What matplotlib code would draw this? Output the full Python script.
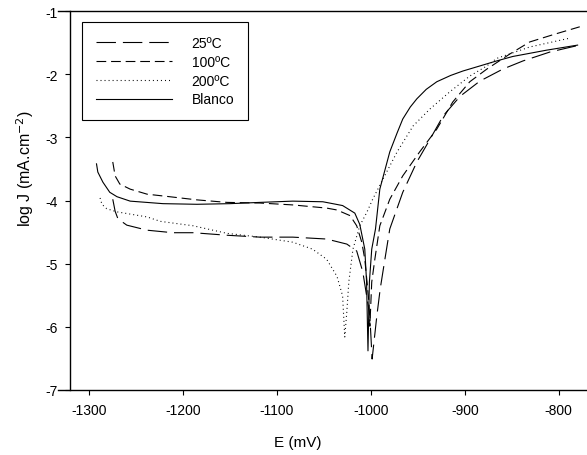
import numpy as np
import matplotlib
matplotlib.use("Agg")
import matplotlib.pyplot as plt

plt.rcParams.update({
    "font.family": ["Liberation Sans", "DejaVu Sans"],
    "font.size": 10,
    "lines.scale_dashes": False,
    "axes.unicode_minus": False,
})

# Polarization curves: potential E (mV) vs log J (mA.cm^-2)
e_25 = [-1274.5, -1272, -1269, -1259.6, -1238, -1210.6, -1189, -1153, -1118, -1083,
        -1047, -1025.5, -1015, -1008.5, -1001, -998.6, -993.6, -990, -985, -979.8,
        -966, -951, -937, -923, -905, -884, -859.6, -838, -809.6, -780.9]
j_25 = [-3.98, -4.17, -4.29, -4.39, -4.47, -4.51, -4.51, -4.55, -4.58, -4.58,
        -4.61, -4.69, -4.80, -5.13, -5.83, -6.51, -5.83, -5.40, -4.93, -4.45,
        -3.87, -3.39, -3.03, -2.66, -2.35, -2.11, -1.92, -1.79, -1.65, -1.55]

e_100 = [-1274.5, -1272, -1267, -1256, -1238, -1214, -1185, -1153, -1118, -1083,
         -1047, -1036, -1022, -1015, -1009.6, -1006.4, -1004, -1002, -1001, -999,
         -995.7, -990.4, -979.8, -966, -948, -929.8, -912.8, -894.7, -876.6, -852,
         -830.9, -805, -777.7]
j_100 = [-3.39, -3.61, -3.74, -3.82, -3.90, -3.94, -3.99, -4.03, -4.04, -4.07,
         -4.12, -4.15, -4.24, -4.40, -4.66, -4.93, -5.29, -5.61, -5.99, -5.29,
         -4.93, -4.40, -3.98, -3.61, -3.23, -2.87, -2.44, -2.12, -1.92, -1.68,
         -1.49, -1.37, -1.25]

e_200 = [-1288, -1286, -1281, -1270, -1238, -1224, -1189, -1153, -1118, -1083,
         -1062, -1047, -1036, -1030, -1027.7, -1025.5, -1023.4, -1019, -1011.7, -1004,
         -998, -987, -972, -955, -937, -916, -894.7, -876.6, -866, -831,
         -791.5, -788]
j_200 = [-3.96, -4.06, -4.13, -4.18, -4.26, -4.33, -4.40, -4.52, -4.58, -4.66,
         -4.77, -4.93, -5.20, -5.51, -6.16, -5.76, -5.29, -4.77, -4.40, -4.18,
         -3.98, -3.66, -3.23, -2.82, -2.55, -2.28, -2.03, -1.87, -1.75, -1.57,
         -1.44, -1.43]

e_blanco = [-1291.8, -1290.4, -1285, -1277.7, -1270, -1256, -1221, -1185, -1150, -1118,
            -1083, -1051, -1030, -1017, -1011.7, -1006.4, -1004.5, -1003, -1001.5, -999,
            -995, -990.4, -979.8, -972, -966, -958, -951, -941, -929.8, -915,
            -902, -866, -849, -813, -780]
j_blanco = [-3.42, -3.55, -3.71, -3.87, -3.94, -4.01, -4.05, -4.06, -4.05, -4.03,
            -4.01, -4.02, -4.08, -4.20, -4.38, -4.77, -5.29, -6.38, -5.29, -4.77,
            -4.45, -3.82, -3.23, -2.93, -2.71, -2.52, -2.39, -2.24, -2.12, -2.02,
            -1.95, -1.79, -1.72, -1.62, -1.54]

x_ticks = [-1300, -1200, -1100, -1000, -900, -800]
y_ticks = [-7, -6, -5, -4, -3, -2, -1]

fig = plt.figure(figsize=(5.87, 4.56), dpi=100)
ax = fig.add_axes([70 / 587, 1 - 391 / 456, 517 / 587, 379 / 456])

lw = 0.8
ax.plot(e_25, j_25, color="black", lw=lw, dashes=(14, 5), label="25ºC")
ax.plot(e_100, j_100, color="black", lw=lw, dashes=(7, 3.5), label="100ºC")
ax.plot(e_200, j_200, color="black", lw=lw, dashes=(0.7, 2.2), label="200ºC")
ax.plot(e_blanco, j_blanco, color="black", lw=lw, label="Blanco")

ax.set_xlim(-1320, -770)
ax.set_ylim(-7, -1)
ax.set_xticks(x_ticks)
ax.set_yticks(y_ticks)
ax.tick_params(direction="out", length=3.6, width=0.8)
ax.tick_params(axis="x", pad=6)
ax.tick_params(axis="y", pad=5)
for side in ("left", "bottom", "top"):
    ax.spines[side].set_linewidth(1.0)
ax.spines["right"].set_visible(False)
# top and bottom frame lines run a little past the y axis
ax.spines["bottom"].set_bounds(-1333, -770)
ax.spines["top"].set_bounds(-1333, -770)

ax.set_xlabel("E (mV)", fontsize=11, va="top")
ax.xaxis.set_label_coords(0.44, -0.118)
ax.set_ylabel("log J (mA.cm$^{-2}$)", fontsize=11.5, va="center")
ax.yaxis.set_label_coords(-0.087, 0.588)

leg = ax.legend(loc="upper left", bbox_to_anchor=(0.023, 0.971), fontsize=10,
                handlelength=5.5, handletextpad=1.4, labelspacing=0.35,
                borderpad=1.0, borderaxespad=0, fancybox=False, framealpha=1,
                edgecolor="black")
leg.get_frame().set_linewidth(0.8)

fig.savefig("out.png", dpi=100)
plt.close(fig)
